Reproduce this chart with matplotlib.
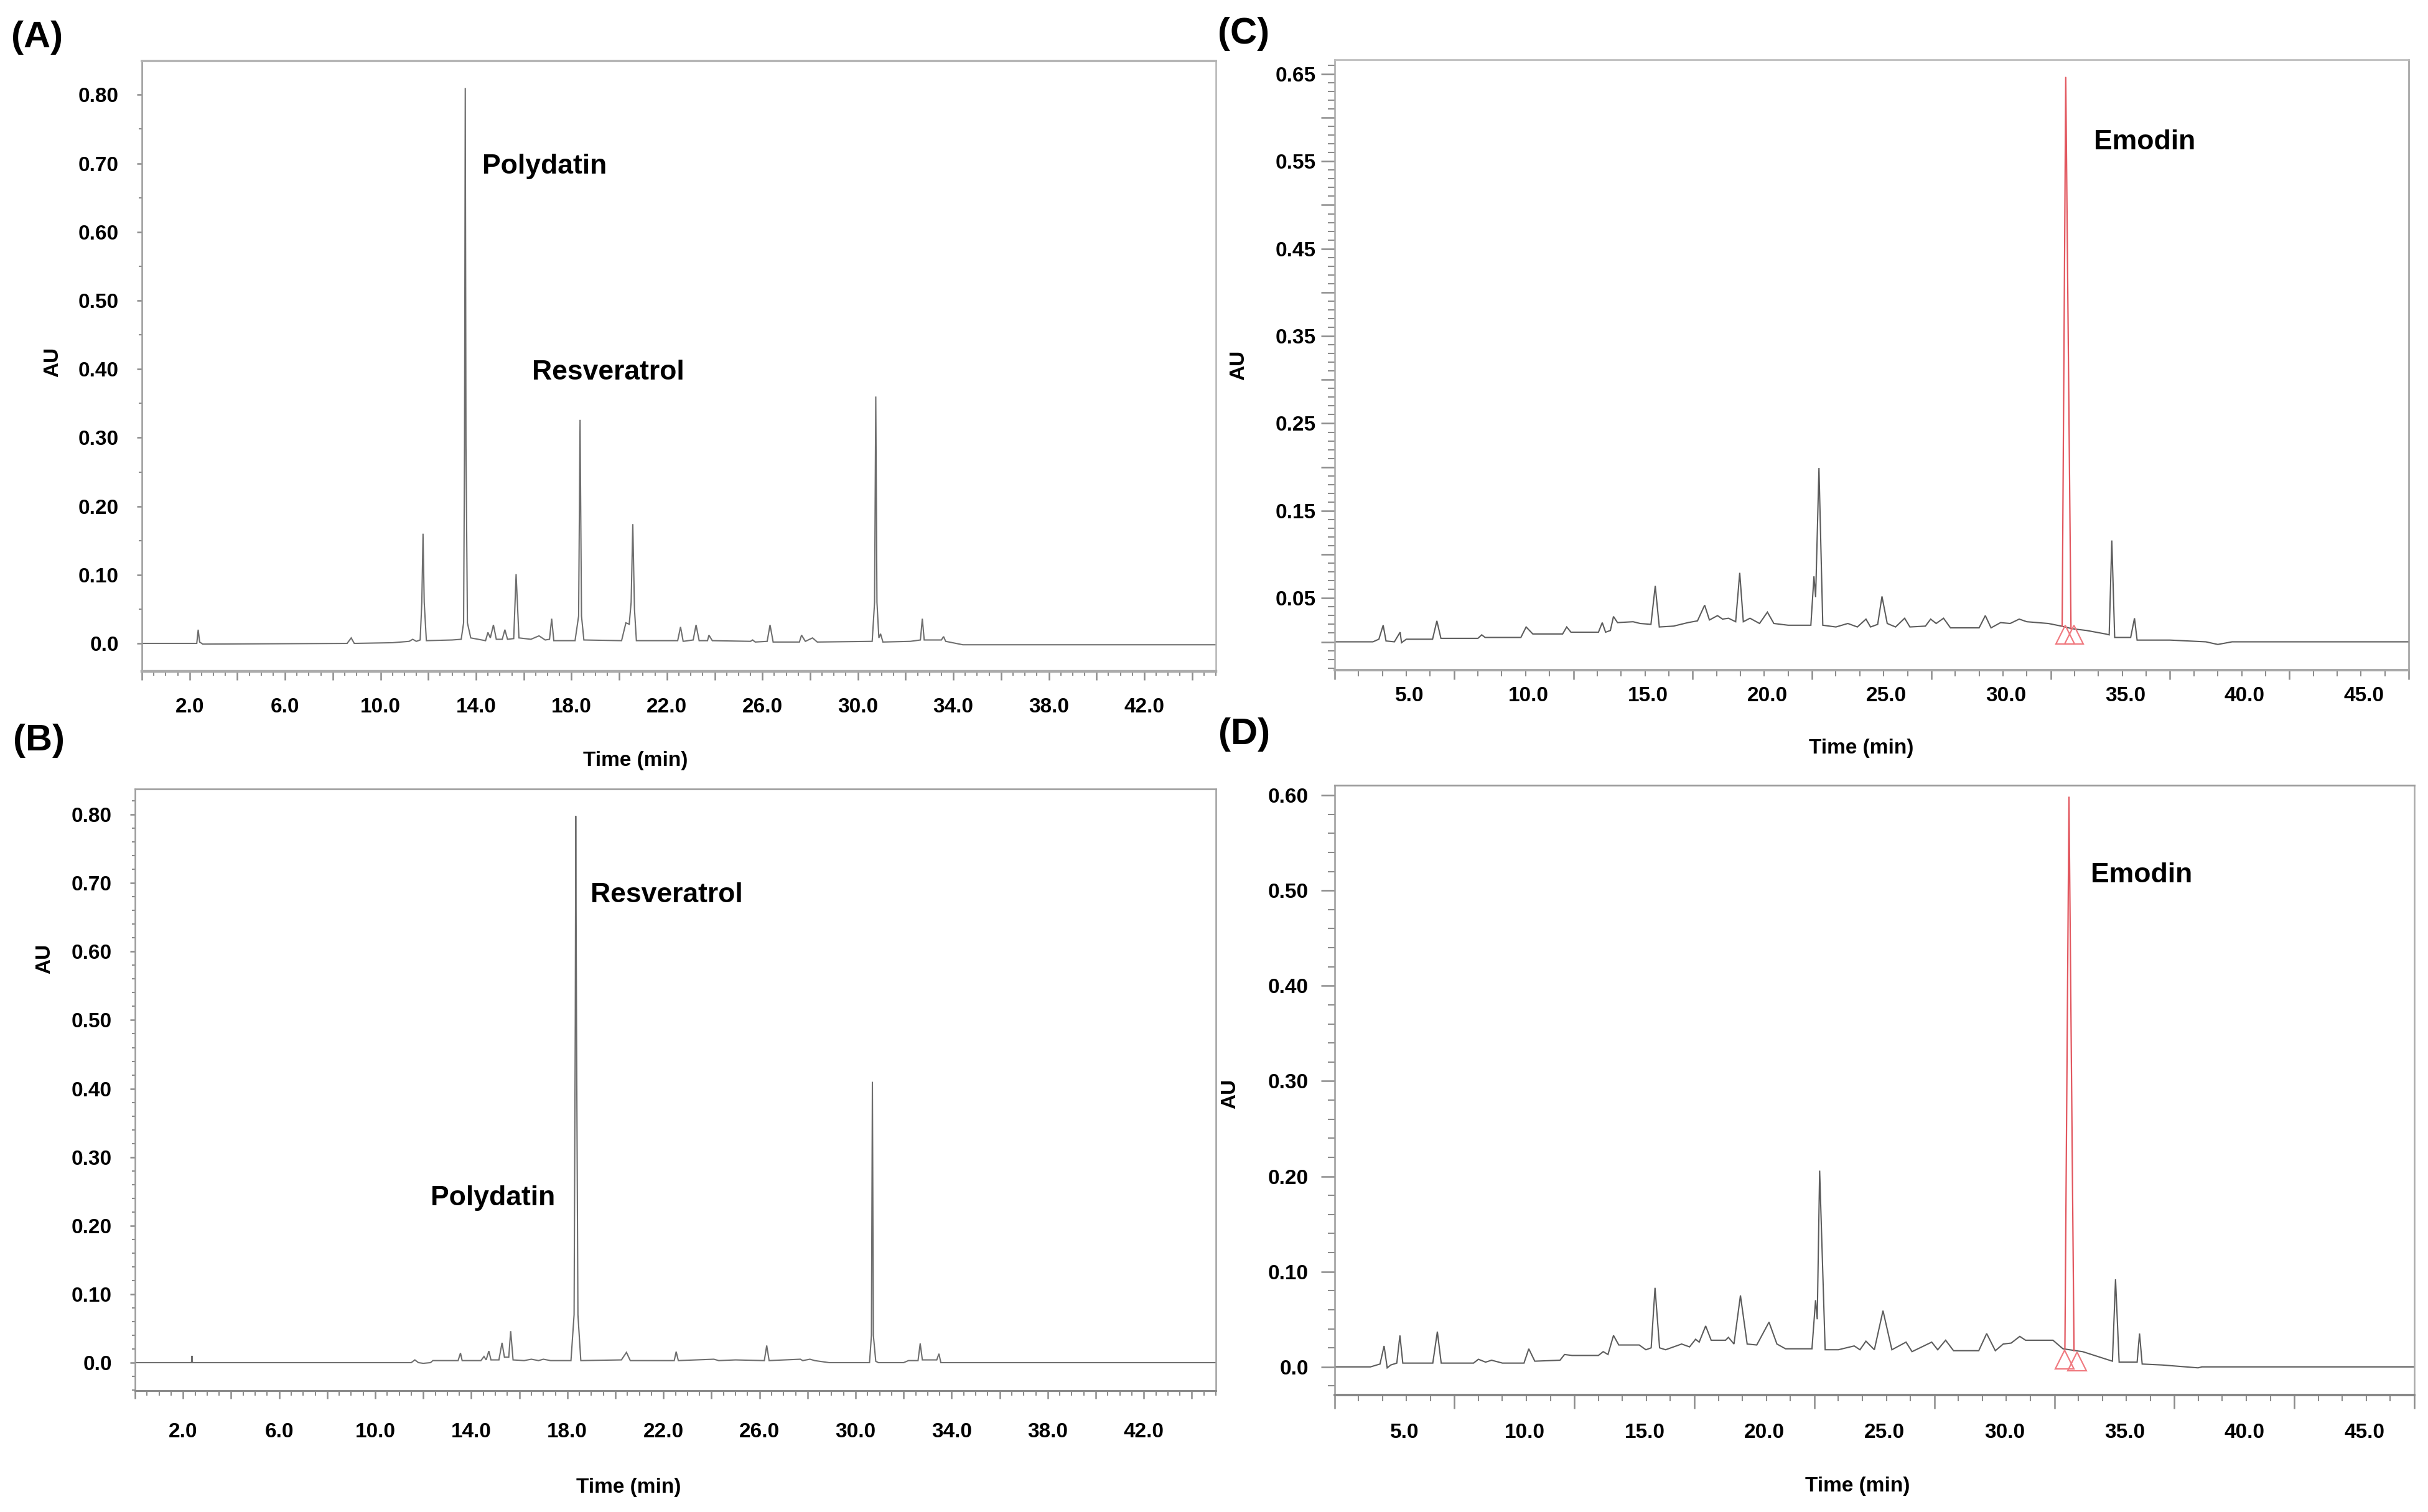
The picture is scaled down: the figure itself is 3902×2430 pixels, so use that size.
import numpy as np
import matplotlib.pyplot as plt
import matplotlib.transforms as mtransforms
from matplotlib.ticker import FixedLocator, FixedFormatter, MultipleLocator

plt.rcParams['font.family'] = ['Liberation Sans', 'DejaVu Sans']
plt.rcParams['font.weight'] = 'bold'

FIG_W, FIG_H = 3902, 2430  # pixels, saved at dpi 100

# Chromatogram traces as (time in min, absorbance in AU) vertices
trace_a = [
    (0.0, 0.000), (2.30, 0.000), (2.36, 0.020), (2.42, 0.002), (2.55, -0.001),
    (8.60, 0.000), (8.77, 0.008), (8.90, 0.000), (10.50, 0.001), (11.20, 0.003),
    (11.35, 0.006), (11.50, 0.003), (11.66, 0.005), (11.73, 0.060), (11.78, 0.160),
    (11.83, 0.060), (11.92, 0.004), (13.00, 0.005), (13.38, 0.006), (13.48, 0.030),
    (13.52, 0.290), (13.55, 0.810), (13.58, 0.290), (13.64, 0.030), (13.78, 0.008),
    (14.40, 0.004), (14.50, 0.016), (14.60, 0.008), (14.73, 0.027), (14.85, 0.006),
    (15.10, 0.006), (15.21, 0.020), (15.32, 0.006), (15.58, 0.007), (15.68, 0.101),
    (15.80, 0.008), (16.30, 0.006), (16.64, 0.011), (16.90, 0.005), (17.08, 0.006),
    (17.17, 0.036), (17.26, 0.004), (18.15, 0.004), (18.30, 0.040), (18.36, 0.326),
    (18.42, 0.040), (18.52, 0.005), (20.10, 0.004), (20.28, 0.030), (20.42, 0.028),
    (20.50, 0.060), (20.57, 0.174), (20.64, 0.050), (20.72, 0.004), (22.45, 0.004),
    (22.57, 0.024), (22.68, 0.003), (23.10, 0.005), (23.22, 0.027), (23.35, 0.004),
    (23.70, 0.004), (23.76, 0.012), (23.90, 0.004), (25.50, 0.003), (25.59, 0.005),
    (25.70, 0.002), (26.20, 0.003), (26.32, 0.027), (26.45, 0.002), (27.55, 0.002),
    (27.64, 0.012), (27.80, 0.003), (28.10, 0.008), (28.30, 0.002), (30.60, 0.003),
    (30.70, 0.060), (30.75, 0.360), (30.80, 0.060), (30.88, 0.008), (30.95, 0.014),
    (31.05, 0.002), (32.20, 0.003), (32.62, 0.005), (32.70, 0.036), (32.78, 0.005),
    (33.50, 0.005), (33.59, 0.010), (33.68, 0.003), (34.40, -0.002), (45.0, -0.002),
]

trace_b = [
    (0.0, 0.000), (2.35, 0.000), (2.37, 0.010), (2.39, 0.000), (11.50, 0.000),
    (11.65, 0.004), (11.80, 0.000), (12.00, -0.001), (12.30, 0.000), (12.40, 0.003),
    (13.45, 0.003), (13.55, 0.014), (13.62, 0.003), (14.40, 0.003), (14.53, 0.009),
    (14.62, 0.004), (14.73, 0.017), (14.82, 0.004), (15.15, 0.004), (15.28, 0.029),
    (15.38, 0.008), (15.56, 0.008), (15.64, 0.046), (15.74, 0.004), (16.20, 0.003),
    (16.50, 0.005), (16.80, 0.003), (17.00, 0.005), (17.30, 0.003), (18.15, 0.003),
    (18.28, 0.070), (18.33, 0.500), (18.35, 0.798), (18.38, 0.500), (18.44, 0.070),
    (18.56, 0.003), (20.25, 0.004), (20.46, 0.015), (20.62, 0.003), (22.45, 0.003),
    (22.53, 0.016), (22.62, 0.003), (24.10, 0.005), (24.30, 0.003), (25.00, 0.004),
    (26.20, 0.003), (26.30, 0.025), (26.40, 0.003), (27.70, 0.005), (27.80, 0.003),
    (28.10, 0.005), (28.30, 0.003), (28.90, 0.000), (30.58, 0.000), (30.66, 0.040),
    (30.70, 0.410), (30.74, 0.040), (30.84, 0.002), (30.95, 0.000), (32.00, 0.000),
    (32.20, 0.003), (32.60, 0.003), (32.69, 0.028), (32.78, 0.004), (33.38, 0.004),
    (33.47, 0.013), (33.55, 0.000), (45.0, 0.000),
]

trace_c = [
    (0.0, 0.000), (1.60, 0.000), (1.85, 0.003), (2.03, 0.019), (2.15, 0.001),
    (2.50, 0.000), (2.74, 0.011), (2.80, -0.001), (3.00, 0.003), (4.10, 0.003),
    (4.28, 0.024), (4.45, 0.004), (6.00, 0.004), (6.16, 0.008), (6.30, 0.005),
    (7.80, 0.005), (8.02, 0.017), (8.30, 0.009), (9.55, 0.009), (9.72, 0.017),
    (9.90, 0.011), (11.05, 0.011), (11.21, 0.022), (11.35, 0.011), (11.55, 0.013),
    (11.68, 0.029), (11.85, 0.022), (12.50, 0.023), (12.80, 0.021), (13.25, 0.020),
    (13.43, 0.064), (13.60, 0.017), (14.20, 0.018), (14.80, 0.022), (15.20, 0.024),
    (15.50, 0.042), (15.70, 0.025), (16.04, 0.030), (16.25, 0.026), (16.50, 0.027),
    (16.80, 0.023), (16.97, 0.079), (17.12, 0.023), (17.40, 0.027), (17.80, 0.021),
    (18.13, 0.034), (18.40, 0.021), (19.00, 0.019), (19.95, 0.019), (20.08, 0.075),
    (20.15, 0.051), (20.29, 0.199), (20.45, 0.019), (21.00, 0.017), (21.50, 0.021),
    (21.90, 0.017), (22.26, 0.026), (22.45, 0.017), (22.75, 0.020), (22.93, 0.052),
    (23.15, 0.021), (23.50, 0.017), (23.88, 0.027), (24.10, 0.017), (24.75, 0.018),
    (24.97, 0.026), (25.20, 0.021), (25.51, 0.027), (25.80, 0.016), (27.00, 0.016),
    (27.26, 0.030), (27.50, 0.016), (27.90, 0.022), (28.30, 0.021), (28.68, 0.026),
    (29.00, 0.023), (29.90, 0.021), (30.45, 0.018), (30.90, 0.015), (31.50, 0.013),
    (32.30, 0.009), (32.45, 0.008), (32.56, 0.116), (32.68, 0.005), (33.35, 0.005),
    (33.51, 0.027), (33.62, 0.002), (35.00, 0.002), (36.50, 0.000), (37.00, -0.003),
    (37.60, 0.000), (45.0, 0.000),
]

trace_d = [
    (0.0, 0.000), (1.50, 0.000), (1.90, 0.003), (2.07, 0.022), (2.20, -0.001),
    (2.35, 0.002), (2.60, 0.004), (2.73, 0.033), (2.85, 0.004), (4.10, 0.004),
    (4.29, 0.037), (4.45, 0.004), (5.80, 0.004), (6.00, 0.008), (6.30, 0.005),
    (6.55, 0.007), (7.00, 0.004), (7.90, 0.004), (8.10, 0.019), (8.35, 0.006),
    (9.40, 0.007), (9.59, 0.013), (9.90, 0.012), (11.00, 0.012), (11.20, 0.016),
    (11.40, 0.013), (11.63, 0.033), (11.85, 0.023), (12.70, 0.023), (12.98, 0.018),
    (13.20, 0.020), (13.36, 0.083), (13.55, 0.020), (13.80, 0.018), (14.47, 0.024),
    (14.80, 0.021), (15.05, 0.029), (15.20, 0.026), (15.47, 0.043), (15.70, 0.028),
    (16.30, 0.028), (16.42, 0.031), (16.65, 0.024), (16.92, 0.075), (17.20, 0.024),
    (17.60, 0.023), (18.11, 0.047), (18.44, 0.024), (18.80, 0.019), (19.90, 0.019),
    (20.05, 0.070), (20.12, 0.050), (20.22, 0.206), (20.45, 0.018), (21.00, 0.018),
    (21.66, 0.022), (21.90, 0.018), (22.15, 0.027), (22.50, 0.018), (22.86, 0.059),
    (23.23, 0.018), (23.82, 0.026), (24.07, 0.016), (24.89, 0.026), (25.14, 0.018),
    (25.47, 0.028), (25.80, 0.017), (26.85, 0.017), (27.18, 0.035), (27.54, 0.017),
    (27.87, 0.024), (28.20, 0.025), (28.56, 0.032), (28.80, 0.028), (29.94, 0.028),
    (30.36, 0.019), (30.90, 0.017), (31.18, 0.016), (32.17, 0.008), (32.42, 0.006),
    (32.55, 0.092), (32.70, 0.005), (33.45, 0.005), (33.55, 0.035), (33.66, 0.003),
    (34.49, 0.002), (35.99, -0.001), (36.15, 0.000), (45.0, 0.000),
]

# Emodin peak (red) and its integration markers
emodin_c = [(30.48, 0.018), (30.63, 0.646), (30.85, 0.015)]
markers_c = [(30.60, 0.008), (30.98, 0.008)]
emodin_d = [(30.44, 0.019), (30.61, 0.598), (30.82, 0.017)]
markers_d = [(30.44, 0.008), (30.94, 0.006)]

# Tick values
xlong_ab = list(range(0, 46, 2))
xlabels_ab = [2, 6, 10, 14, 18, 22, 26, 30, 34, 38, 42]
xlong_cd = list(range(0, 46, 5))
xlabels_cd = [5, 10, 15, 20, 25, 30, 35, 40, 45]
ylong_ab = [0.0, 0.1, 0.2, 0.3, 0.4, 0.5, 0.6, 0.7, 0.8]
ylong_c = [0.0, 0.05, 0.1, 0.15, 0.2, 0.25, 0.3, 0.35, 0.4, 0.45, 0.5, 0.55, 0.6, 0.65]
ylabels_c = [0.05, 0.15, 0.25, 0.35, 0.45, 0.55, 0.65]
ylong_d = [0.0, 0.1, 0.2, 0.3, 0.4, 0.5, 0.6]

# Peak names: (text, left px, baseline px)
names_a = [("Polydatin", 775, 279), ("Resveratrol", 855, 610)]
names_b = [("Resveratrol", 949, 1450), ("Polydatin", 692, 1937)]
names_c = [("Emodin", 3365, 240)]
names_d = [("Emodin", 3360, 1418)]


def px_rect(left, top, right, bottom):
    return [left / FIG_W, 1 - bottom / FIG_H, (right - left) / FIG_W, (bottom - top) / FIG_H]


def fig_text(fig, x, y, s, **kw):
    fig.text(x / FIG_W, 1 - y / FIG_H, s, **kw)


def y_fmt(v, labelled):
    if not any(np.isclose(v, labelled)):
        return ''
    return '0.0' if np.isclose(v, 0) else f'{v:.2f}'


def setup_axes(ax, spec):
    ax.set_xlim(0, 45)
    ax.set_ylim(*spec['ylim'])

    ax.xaxis.set_major_locator(FixedLocator(spec['xlong']))
    ax.xaxis.set_major_formatter(FixedFormatter(
        [f'{t:.1f}' if t in spec['xlabels'] else '' for t in spec['xlong']]))
    ax.xaxis.set_minor_locator(MultipleLocator(spec['xminor']))

    ax.yaxis.set_major_locator(FixedLocator(spec['ylong']))
    ax.yaxis.set_major_formatter(FixedFormatter(
        [y_fmt(v, spec['ylabels']) for v in spec['ylong']]))
    ax.yaxis.set_minor_locator(MultipleLocator(spec['yminor']))

    xl, xm, xp = spec['xtick']
    yl, ym, yp = spec['ytick']
    tick_color = '#8c8c8c'
    ax.tick_params(axis='x', which='major', direction='out', length=xl, width=1.8,
                   color=tick_color, pad=xp, labelsize=24)
    ax.tick_params(axis='x', which='minor', direction='out', length=xm, width=1.5,
                   color=tick_color)
    ax.tick_params(axis='y', which='major', direction='out', length=yl, width=1.8,
                   color=tick_color, pad=yp, labelsize=24)
    ax.tick_params(axis='y', which='minor', direction='out', length=ym, width=1.5,
                   color=tick_color)

    for side, (color, lw) in spec['spines'].items():
        ax.spines[side].set_color(color)
        ax.spines[side].set_linewidth(lw)
    if spec.get('dotted_left'):
        ax.spines['left'].set_linestyle((0, (1, 1)))

    if spec.get('label_shift'):
        shift = mtransforms.ScaledTranslation(spec['label_shift'] / 100, 0,
                                              ax.figure.dpi_scale_trans)
        for label in ax.xaxis.get_majorticklabels():
            label.set_transform(label.get_transform() + shift)


def plot_chart(ax, trace, color, peak=None, markers=None):
    t, au = zip(*trace)
    ax.plot(t, au, color=color, lw=1.5, solid_joinstyle='miter')
    if peak is not None:
        pt, pau = zip(*peak)
        ax.plot(pt, pau, color='#e2575f', lw=1.6)
    if markers is not None:
        mt, mau = zip(*markers)
        ax.plot(mt, mau, linestyle='none', marker='^', markersize=22,
                markerfacecolor='none', markeredgecolor='#f07a80', markeredgewidth=1.6)


panels = [
    dict(rect=(228, 97.6, 1954, 1079), ylim=(-0.0408, 0.8497),
         xlong=xlong_ab, xlabels=xlabels_ab, xminor=0.5,
         ylong=ylong_ab, ylabels=ylong_ab, yminor=0.05,
         xtick=(10, 5, 20), ytick=(6, 3.6, 20.8), dotted_left=True,
         spines={'top': ('#b4b4b4', 2.8), 'right': ('#b4b4b4', 1.8),
                 'bottom': ('#ababab', 3.2), 'left': ('#9a9a9a', 1.8)},
         trace=trace_a, color='#6e6e6e', names=names_a,
         letter=("(A)", 60, 60), au=(85, 582), time=(1021, 1222)),
    dict(rect=(217, 1268, 1954, 2235), ylim=(-0.0409, 0.8374),
         xlong=xlong_ab, xlabels=xlabels_ab, xminor=0.5,
         ylong=ylong_ab, ylabels=ylong_ab, yminor=0.02,
         xtick=(9.4, 5.8, 27.4), ytick=(5.8, 3.6, 20.8), dotted_left=True,
         spines={'top': ('#a0a0a0', 2.0), 'right': ('#a0a0a0', 1.8),
                 'bottom': ('#8a8a8a', 2.2), 'left': ('#9a9a9a', 1.8)},
         trace=trace_b, color='#6e6e6e', names=names_b,
         letter=("(B)", 62, 1190), au=(72, 1541), time=(1010, 2390)),
    dict(rect=(2145, 95.7, 3871, 1077), ylim=(-0.0324, 0.6665),
         xlong=xlong_cd, xlabels=xlabels_cd, xminor=1,
         ylong=ylong_c, ylabels=ylabels_c, yminor=0.01,
         xtick=(10.8, 7.2, 7.9), ytick=(15.8, 8, 6.2), label_shift=-72,
         spines={'top': ('#bdbdbd', 2.0), 'right': ('#9a9a9a', 1.8),
                 'bottom': ('#a8a8a8', 2.8), 'left': ('#a8a8a8', 1.8)},
         trace=trace_c, color='#5c5c5c', names=names_c,
         peak=emodin_c, markers=markers_c,
         letter=("(C)", 1999, 55), au=(1991, 587), time=(2991, 1202)),
    dict(rect=(2144.5, 1261.6, 3880, 2241.5), ylim=(-0.0292, 0.6108),
         xlong=xlong_cd, xlabels=xlabels_cd, xminor=1,
         ylong=ylong_d, ylabels=ylong_d, yminor=0.02,
         xtick=(15.8, 7, 17.2), ytick=(15.8, 8, 14), label_shift=-80,
         spines={'top': ('#9a9a9a', 2.0), 'right': ('#ababab', 1.8),
                 'bottom': ('#878787', 2.8), 'left': ('#9a9a9a', 1.8)},
         trace=trace_d, color='#5c5c5c', names=names_d,
         peak=emodin_d, markers=markers_d,
         letter=("(D)", 2000, 1180), au=(1977, 1758), time=(2985, 2389)),
]


if __name__ == "__main__":
    fig = plt.figure(figsize=(FIG_W / 100, FIG_H / 100), dpi=100)

    for spec in panels:
        ax = fig.add_axes(px_rect(*spec['rect']))
        plot_chart(ax, spec['trace'], spec['color'], spec.get('peak'), spec.get('markers'))
        setup_axes(ax, spec)

        letter, lx, ly = spec['letter']
        fig_text(fig, lx, ly, letter, fontsize=43, ha='center', va='center')
        fig_text(fig, *spec['au'], "AU", fontsize=24, rotation=90, ha='center', va='center')
        fig_text(fig, *spec['time'], "Time (min)", fontsize=24, ha='center', va='center')
        for name, nx, ny in spec['names']:
            fig_text(fig, nx, ny, name, fontsize=32, ha='left', va='baseline')

    fig.savefig("out.png", dpi=100, facecolor="white")
